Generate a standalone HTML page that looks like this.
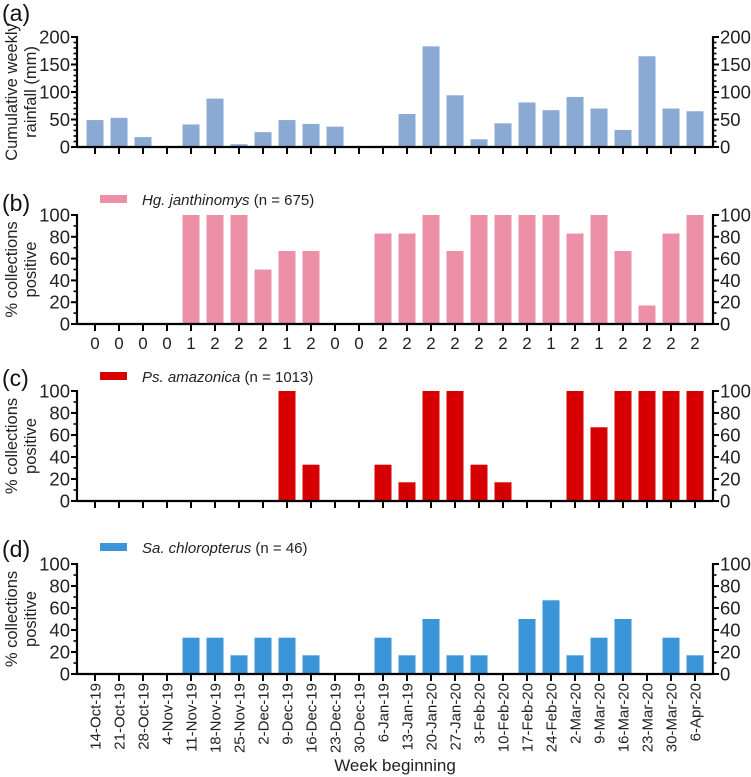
<!DOCTYPE html>
<html><head><meta charset="utf-8"><style>
body{margin:0;background:#fff}
svg{display:block;font-family:"Liberation Sans",Arial,sans-serif}
</style></head><body>
<svg id="fig" width="751" height="777" viewBox="0 0 751 777" xmlns="http://www.w3.org/2000/svg"></svg>
<script>
const weeks=["14-Oct-19","21-Oct-19","28-Oct-19","4-Nov-19","11-Nov-19","18-Nov-19","25-Nov-19","2-Dec-19","9-Dec-19","16-Dec-19","23-Dec-19","30-Dec-19","6-Jan-19","13-Jan-19","20-Jan-20","27-Jan-20","3-Feb-20","10-Feb-20","17-Feb-20","24-Feb-20","2-Mar-20","9-Mar-20","16-Mar-20","23-Mar-20","30-Mar-20","6-Apr-20"];
const rainfall=[49,53,18,0,41,88,5,27,49,42,37,0,2,60,183,94,14,43,81,67,91,70,31,165,70,65];
const hgValues=[0,0,0,0,100,100,100,50,67,67,0,0,83,83,100,67,100,100,100,100,83,100,67,17,83,100];
const hgCounts=[0,0,0,0,1,2,2,2,1,2,0,0,2,2,2,2,2,2,2,1,2,1,2,2,2,2];
const psValues=[0,0,0,0,0,0,0,0,100,33,0,0,33,17,100,100,33,17,0,0,100,67,100,100,100,100];
const saValues=[0,0,0,0,33,33,17,33,33,17,0,0,33,17,50,17,17,0,50,67,17,33,50,0,33,17];
const rainTicks=[0,50,100,150,200];
const pctTicks=[0,20,40,60,80,100];

const NS="http://www.w3.org/2000/svg";
const svg=document.getElementById('fig');
function el(tag,attrs,parent,text){const e=document.createElementNS(NS,tag);for(const k in attrs)e.setAttribute(k,attrs[k]);if(text!==undefined)e.textContent=text;(parent||svg).appendChild(e);return e;}
const xL=77,xR=713,x0=95,step=24,bw=17;
function xs(i){return x0+i*step;}

function panel(opts){
  const g=el('g',{});
  
  
  const yT=opts.yTop,yB=opts.yBot,max=opts.max;
  const ys=v=>yB-(v/max)*(yB-yT);
  opts.values.forEach((v,i)=>{
    if(v<=0)return;
    const r=el('rect',{x:xs(i)-bw/2,y:ys(v),width:bw,height:yB-ys(v),fill:opts.color},g);
    
    
  });
  el('line',{x1:xL,y1:yB,x2:xR,y2:yB,stroke:'#000','stroke-width':2.2},g);
  el('line',{x1:xL,y1:yT-1,x2:xL,y2:yB+1,stroke:'#000','stroke-width':2.2},g);
  el('line',{x1:xR,y1:yT-1,x2:xR,y2:yB+1,stroke:'#000','stroke-width':2.2},g);
  for(let v=0;v<=max;v+=10){
    const y=ys(v);
    const isMaj=opts.ticks.indexOf(v)>=0;
    const len=isMaj?6:3.5;
    el('line',{x1:xL-len,y1:y,x2:xL,y2:y,stroke:'#000','stroke-width':isMaj?2:1.6},g);
    el('line',{x1:xR,y1:y,x2:xR+len,y2:y,stroke:'#000','stroke-width':isMaj?2:1.6},g);
  }
  opts.ticks.forEach(v=>{
    const y=ys(v);
    const a=el('text',{x:xL-7,y:y+6.5,'text-anchor':'end','font-size':18.5,fill:'#222'},g,String(v));
    
    const b=el('text',{x:xR+7,y:y+6.5,'text-anchor':'start','font-size':18.5,fill:'#222'},g,String(v));
    
  });
  weeks.forEach((w,i)=>{el('line',{x1:xs(i),y1:yB,x2:xs(i),y2:yB+7,stroke:'#000','stroke-width':2},g);});
  const pl=el('text',{x:2,y:opts.letterY,'font-size':23,fill:'#111'},g,opts.letter);
  
  const cy=(yT+yB)/2;
  const t=el('text',{transform:`translate(0,${cy}) rotate(-90)`,'text-anchor':'middle','font-size':16.5,fill:'#222'},g);
  
  el('tspan',{x:0,y:17},t,opts.title[0]);
  el('tspan',{x:0,y:36},t,opts.title[1]);
  if(opts.legend){
    const lg=el('g',{},g);
    
    el('rect',{x:100,y:opts.legendY-5,width:27,height:8,fill:opts.color},lg);
    const tx=el('text',{x:142,y:opts.legendY+5,'font-size':15,fill:'#222'},lg);
    el('tspan',{'font-style':'italic'},tx,opts.legend[0]);
    el('tspan',{},tx,opts.legend[1]);
  }
}

panel({name:'panel-a-rainfall',values:rainfall,max:200,ticks:rainTicks,yTop:37,yBot:147,color:'#8aaad4',letter:'(a)',letterY:21,title:['Cumulative weekly','rainfall (mm)']});
panel({name:'panel-b-hg',values:hgValues,max:100,ticks:pctTicks,yTop:215,yBot:324,color:'#ec90a8',letter:'(b)',letterY:211,title:['% collections','positive'],legend:['Hg. janthinomys',' (n = 675)'],legendY:200});
panel({name:'panel-c-ps',values:psValues,max:100,ticks:pctTicks,yTop:391,yBot:501,color:'#d60000',letter:'(c)',letterY:386,title:['% collections','positive'],legend:['Ps. amazonica',' (n = 1013)'],legendY:377});
panel({name:'panel-d-sa',values:saValues,max:100,ticks:pctTicks,yTop:564,yBot:674,color:'#3a96d8',letter:'(d)',letterY:557,title:['% collections','positive'],legend:['Sa. chloropterus',' (n = 46)'],legendY:548});

hgCounts.forEach((c,i)=>{
  const t=el('text',{x:xs(i),y:349,'text-anchor':'middle','font-size':17,fill:'#222'},svg,String(c));
  
  
});
weeks.forEach((w,i)=>{
  const t=el('text',{transform:`translate(${xs(i)+5.5},683) rotate(-90)`,'text-anchor':'end','font-size':15,fill:'#222'},svg,w);
  
  
});
const xt=el('text',{x:395,y:771,'text-anchor':'middle','font-size':17,fill:'#222'},svg,'Week beginning');


</script>
</body></html>
